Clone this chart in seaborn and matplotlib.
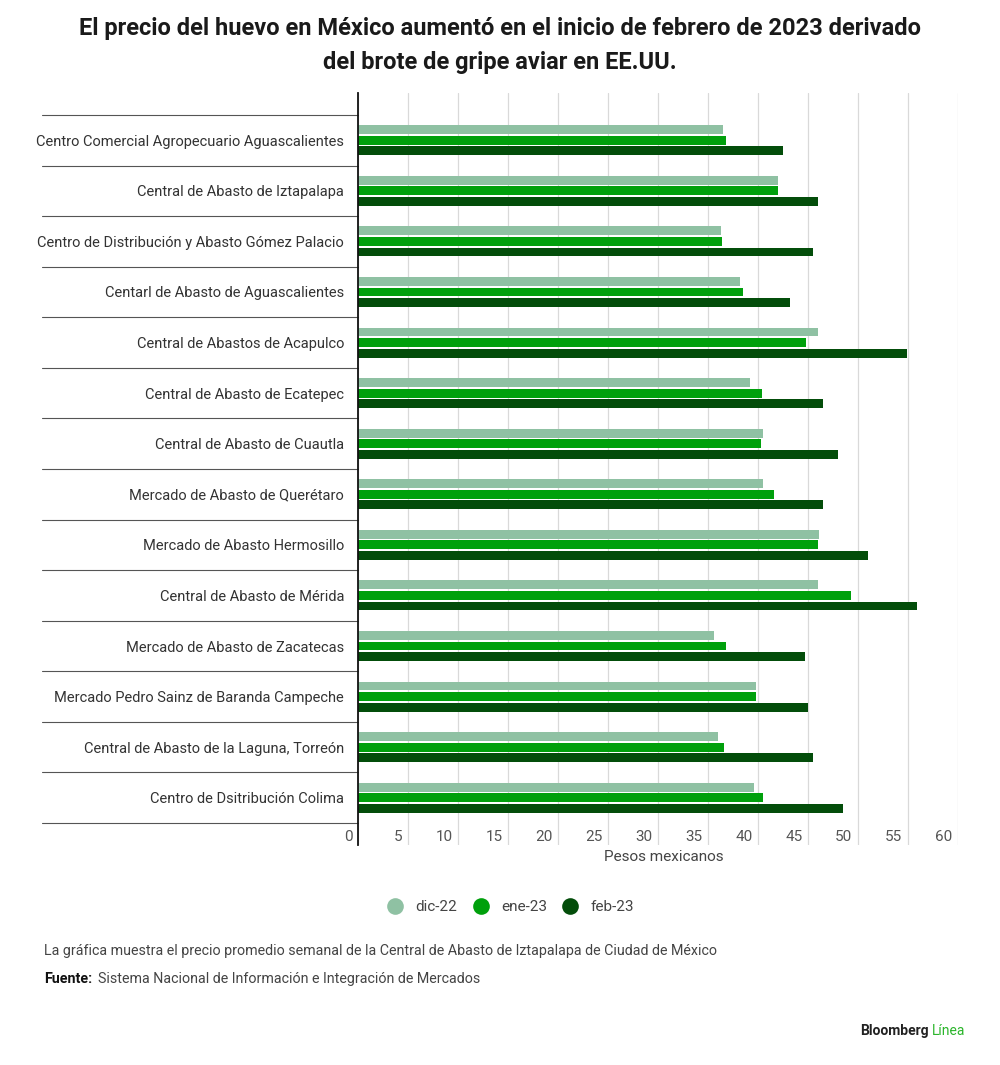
import pandas as pd
import matplotlib.pyplot as plt
import seaborn as sns
from matplotlib import transforms
from matplotlib.lines import Line2D

# Data (pesos mexicanos)
markets = [
    'Centro Comercial Agropecuario Aguascalientes',
    'Central de Abasto de Iztapalapa',
    'Centro de Distribución y Abasto Gómez Palacio',
    'Centarl de Abasto de Aguascalientes',
    'Central de Abastos de Acapulco',
    'Central de Abasto de Ecatepec',
    'Central de Abasto de Cuautla',
    'Mercado de Abasto de Querétaro',
    'Mercado de Abasto Hermosillo',
    'Central de Abasto de Mérida',
    'Mercado de Abasto de Zacatecas',
    'Mercado Pedro Sainz de Baranda Campeche',
    'Central de Abasto de la Laguna, Torreón',
    'Centro de Dsitribución Colima',
]
dic_22 = [36.5, 42.0, 36.3, 38.2, 46.0, 39.2, 40.5, 40.5, 46.1, 46.0, 35.6, 39.8, 36.0, 39.6]
ene_23 = [36.8, 42.0, 36.4, 38.5, 44.8, 40.4, 40.3, 41.6, 46.0, 49.3, 36.8, 39.8, 36.6, 40.5]
feb_23 = [42.5, 46.0, 45.5, 43.2, 54.9, 46.5, 48.0, 46.5, 51.0, 55.9, 44.7, 45.0, 45.5, 48.5]
months = ['dic-22', 'ene-23', 'feb-23']
colors = ['#8fc1a3', '#00a00c', '#034d0a']
x_ticks = list(range(0, 65, 5))

df = pd.DataFrame({'mercado': markets, 'dic-22': dic_22, 'ene-23': ene_23, 'feb-23': feb_23})
df = df.melt(id_vars='mercado', var_name='mes', value_name='precio')

sns.set_style('white')
plt.rcParams['font.family'] = ['Roboto', 'DejaVu Sans']

fig = plt.figure(figsize=(10, 10.65), dpi=100)
ax = fig.add_axes([0.358, 220 / 1065, 0.600, 752 / 1065])

sns.barplot(data=df, x='precio', y='mercado', hue='mes', hue_order=months,
            palette=colors, saturation=1, orient='h', width=0.63, gap=0.17,
            legend=False, edgecolor='none', ax=ax)

n = len(markets)
ax.set_xlim(0, 60)
ax.set_ylim(n - 0.5 + 0.435, -0.5 - 0.435)
ax.set_xlabel('')
ax.set_ylabel('')

# vertical gridlines
for v in x_ticks:
    ax.axvline(v, color='#d9d9d9', lw=0.9, zorder=0)
ax.set_xticks([])
for s in ['top', 'right', 'bottom']:
    ax.spines[s].set_visible(False)
ax.spines['left'].set_color('#111111')
ax.spines['left'].set_linewidth(1.3)
ax.spines['left'].set_zorder(5)

# x tick labels sit just left of each gridline near the bottom
offset = transforms.ScaledTranslation(-4 / 72, 0, fig.dpi_scale_trans)
for v in x_ticks:
    ax.text(v, 0.0106, str(v), transform=ax.get_xaxis_transform() + offset,
            ha='right', va='center', fontsize=11, color='#555555')
ax.text(0.51, -0.016, 'Pesos mexicanos', transform=ax.transAxes,
        ha='center', va='center', fontsize=11, color='#444444')

# category labels and separators on the left
ax.set_yticks(range(n))
ax.set_yticklabels(markets, fontsize=10.5, color='#333333')
ax.tick_params(axis='y', length=0, pad=10)
sep = transforms.blended_transform_factory(fig.transFigure, ax.transData)
for i in range(n + 1):
    ax.plot([0.042, 0.358], [i - 0.5, i - 0.5], transform=sep, color='#555555',
            lw=0.8, clip_on=False)

# title
fig.text(0.5, 1 - 28 / 1065, 'El precio del huevo en México aumentó en el inicio de febrero de 2023 derivado',
         ha='center', va='center', fontsize=17, fontweight='bold', color='#1a1a1a')
fig.text(0.5, 1 - 63 / 1065, 'del brote de gripe aviar en EE.UU.',
         ha='center', va='center', fontsize=17, fontweight='bold', color='#1a1a1a')

# legend
handles = [Line2D([], [], marker='o', ls='', markersize=12, markerfacecolor=c,
                  markeredgecolor='none') for c in colors]
fig.legend(handles, months, loc='center', bbox_to_anchor=(0.507, 1 - 907 / 1065),
           ncol=3, frameon=False, fontsize=11, handletextpad=0.3, columnspacing=0.55,
           labelcolor='#444444')

# footer
fig.text(0.044, 1 - 951 / 1065,
         'La gráfica muestra el precio promedio semanal de la Central de Abasto de Iztapalapa de Ciudad de México',
         ha='left', va='center', fontsize=10.3, color='#444444')
fig.text(0.044, 1 - 979 / 1065, 'Fuente:', ha='left', va='center', fontsize=10.3,
         fontweight='bold', color='#111111')
fig.text(0.0985, 1 - 979 / 1065, 'Sistema Nacional de Información e Integración de Mercados',
         ha='left', va='center', fontsize=10.3, color='#444444')
fig.text(0.929, 1 - 1031 / 1065, 'Bloomberg', ha='right', va='center', fontsize=10,
         fontweight='bold', color='#222222')
fig.text(0.932, 1 - 1031 / 1065, 'Línea', ha='left', va='center', fontsize=10,
         color='#2bb52b')

fig.savefig('out.png', dpi=100, facecolor='white')
